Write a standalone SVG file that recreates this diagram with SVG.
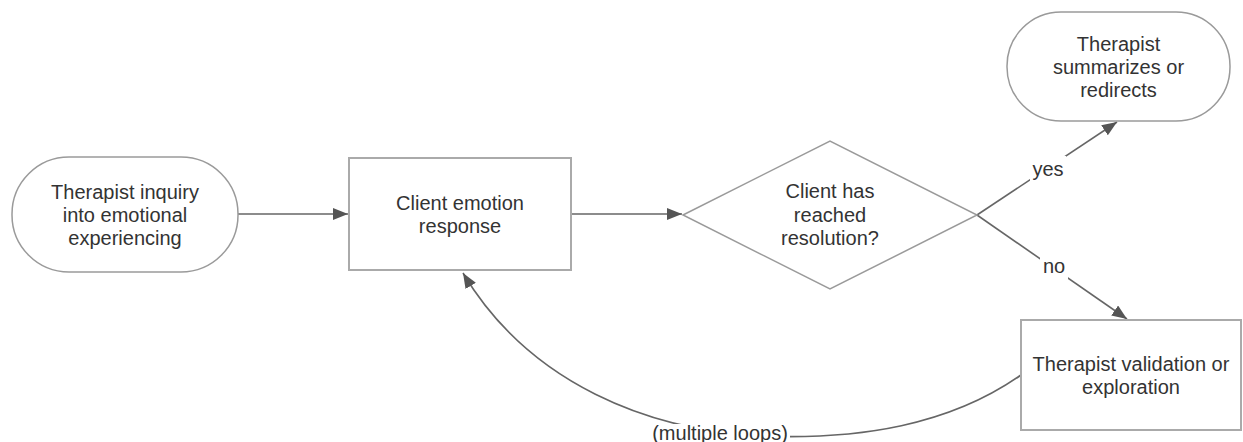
<svg xmlns="http://www.w3.org/2000/svg" width="1243" height="442" viewBox="0 0 1243 442">
<style>
.node{fill:#fff;stroke:#9a9a9a;stroke-width:1.5}
.box{fill:#fff;stroke:#aaa;stroke-width:2}
.t{font-family:"Liberation Sans",Arial,sans-serif;font-size:20px;fill:#333;text-anchor:middle}
.c{fill:none;stroke:#666;stroke-width:1.6}
.lb{fill:#fff;stroke:none}
</style>
<defs>
<marker id="ah" viewBox="0 0 15 12" refX="15" refY="6" markerWidth="15" markerHeight="12" markerUnits="userSpaceOnUse" orient="auto">
<path d="M0,0 L15,6 L0,12 z" fill="#555"/>
</marker>
</defs>
<g id="connectors">
<path class="c" d="M238,214 L348,214" marker-end="url(#ah)"/>
<path class="c" d="M571,214 L682,214" marker-end="url(#ah)"/>
<path class="c" d="M977,215 L1117,122" marker-end="url(#ah)"/>
<path class="c" d="M977,215 L1127,319" marker-end="url(#ah)"/>
<path class="c" d="M1021,375 C950,425 860,440 760,436 C650,430 530,385 463,273" marker-end="url(#ah)"/>
<rect class="lb" x="1030" y="156" width="36" height="26"/>
<text class="t" x="1048" y="176">yes</text>
<rect class="lb" x="1040" y="254" width="28" height="26"/>
<text class="t" x="1054" y="273">no</text>
<rect class="lb" x="650" y="424" width="140" height="18"/>
<text class="t" x="720" y="440">(multiple loops)</text>
</g>
<g id="start">
<rect class="node" x="12" y="157" width="226" height="115" rx="57" ry="57"/>
<text class="t" x="125" y="198.5">Therapist inquiry</text>
<text class="t" x="125" y="221.5">into emotional</text>
<text class="t" x="125" y="244.5">experiencing</text>
</g>
<g id="response">
<rect class="box" x="349" y="158" width="222" height="112"/>
<text class="t" x="460" y="209.5">Client emotion</text>
<text class="t" x="460" y="233">response</text>
</g>
<g id="decision">
<polygon class="node" points="683,215 830,141 977,215 830,289"/>
<text class="t" x="830" y="198">Client has</text>
<text class="t" x="830" y="221.5">reached</text>
<text class="t" x="830" y="245">resolution?</text>
</g>
<g id="summarize">
<rect class="node" x="1007" y="12" width="223" height="109" rx="54" ry="54"/>
<text class="t" x="1118.5" y="51">Therapist</text>
<text class="t" x="1118.5" y="74">summarizes or</text>
<text class="t" x="1118.5" y="97">redirects</text>
</g>
<g id="validation">
<rect class="box" x="1021" y="320" width="220" height="110"/>
<text class="t" x="1131" y="370.5">Therapist validation or</text>
<text class="t" x="1131" y="394">exploration</text>
</g>
</svg>
